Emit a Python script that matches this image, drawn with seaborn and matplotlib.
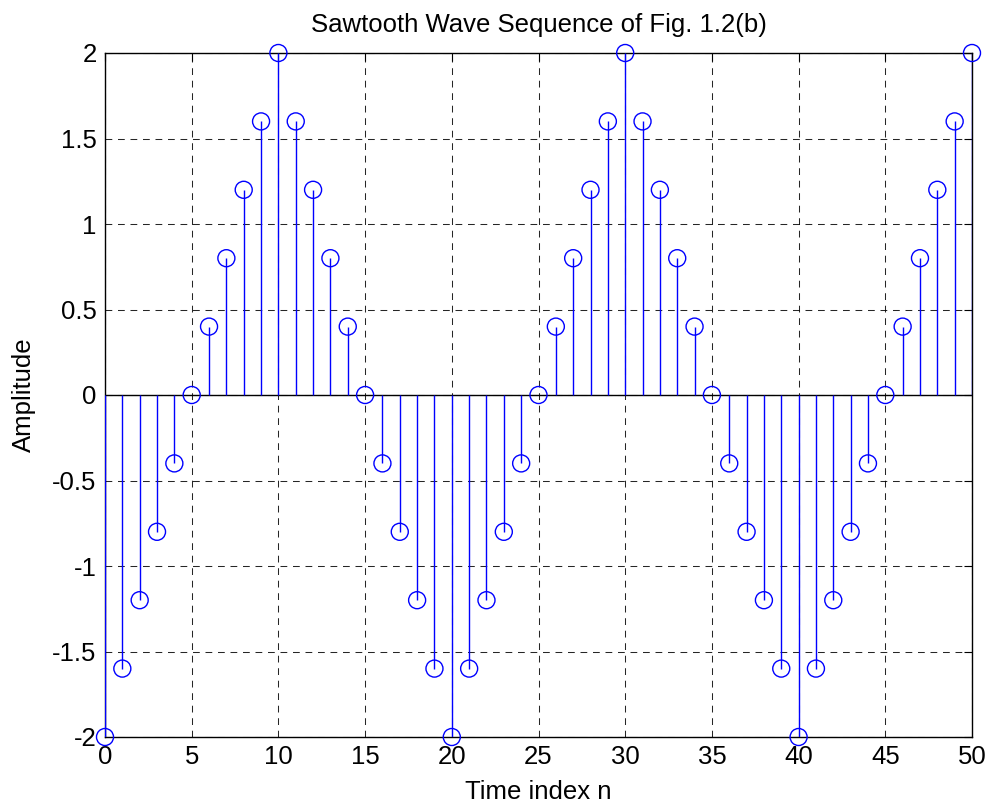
import matplotlib
matplotlib.use("Agg")
import matplotlib.pyplot as plt
import seaborn as sns
import pandas as pd

n = list(range(0, 51))
amplitude = [-2.0, -1.6, -1.2, -0.8, -0.4, 0.0, 0.4, 0.8, 1.2, 1.6, 2.0,
             1.6, 1.2, 0.8, 0.4, 0.0, -0.4, -0.8, -1.2, -1.6, -2.0,
             -1.6, -1.2, -0.8, -0.4, 0.0, 0.4, 0.8, 1.2, 1.6, 2.0,
             1.6, 1.2, 0.8, 0.4, 0.0, -0.4, -0.8, -1.2, -1.6, -2.0,
             -1.6, -1.2, -0.8, -0.4, 0.0, 0.4, 0.8, 1.2, 1.6, 2.0]
xticks = [0, 5, 10, 15, 20, 25, 30, 35, 40, 45, 50]
yticks = [-2, -1.5, -1, -0.5, 0, 0.5, 1, 1.5, 2]
ytick_labels = ["-2", "-1.5", "-1", "-0.5", "0", "0.5", "1", "1.5", "2"]

df = pd.DataFrame({"n": n, "amp": amplitude})

sns.set_style("white")
plt.rcParams['font.family'] = ['Liberation Sans', 'DejaVu Sans']
plt.rcParams['text.color'] = 'black'
plt.rcParams['axes.labelcolor'] = 'black'

fig = plt.figure(figsize=(9.93, 8.07), dpi=100)
ax = fig.add_axes([105/993, 1 - 737/807, (972-105)/993, (737-53)/807])

ax.set_xlim(0, 50)
ax.set_ylim(-2, 2)
ax.set_xticks(xticks)
ax.set_xticklabels([str(t) for t in xticks])
ax.set_yticks(yticks)
ax.set_yticklabels(ytick_labels)

ax.grid(True, color="black", linestyle=(0, (6.5, 5.5)), linewidth=0.75, alpha=0.85)
ax.set_axisbelow(True)

ax.axhline(0, color="black", linewidth=1.0, zorder=2)
ax.vlines(df["n"], 0, df["amp"], color="blue", linewidth=1.0, zorder=3)
sns.scatterplot(data=df, x="n", y="amp", ax=ax, marker="o", s=150,
                facecolor="none", edgecolor="blue", linewidth=1.0,
                zorder=4, clip_on=False, legend=False)

for sp in ax.spines.values():
    sp.set_color("black")
    sp.set_linewidth(1.0)
    sp.set_visible(True)

ax.tick_params(direction="in", length=6, width=0.8, top=True, right=True,
               labelsize=18.5, colors="black", pad=6)
ax.set_title("Sawtooth Wave Sequence of Fig. 1.2(b)", fontsize=18.5, pad=15, color="black")
ax.set_xlabel("Time index n", fontsize=18.5, labelpad=8, color="black")
ax.set_ylabel("Amplitude", fontsize=18.5, labelpad=12, color="black")

fig.savefig("out.png", dpi=100, facecolor="white")
